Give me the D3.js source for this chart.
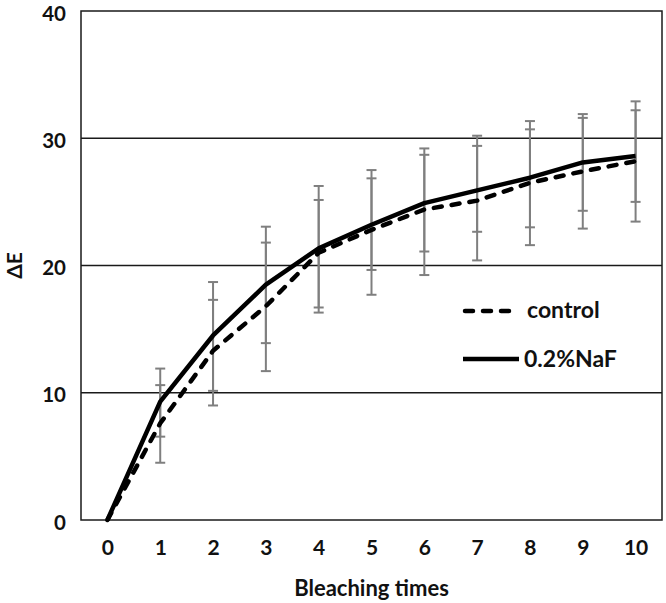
<!DOCTYPE html>
<html><head><meta charset="utf-8">
<script src="https://cdn.jsdelivr.net/npm/d3@7"></script>
<style>
html,body{margin:0;padding:0;background:#fff;}
svg text{font-family:Lato,"Liberation Sans",Arial,sans-serif;font-weight:bold;fill:#111;}
</style></head>
<body><svg id="c" width="666" height="603"></svg>
<script>
const categories = ["0","1","2","3","4","5","6","7","8","9","10"];
const yTicks = [0,10,20,30,40];
const controlMean = [0, 7.6, 13.3, 16.8, 21.0, 22.8, 24.4, 25.1, 26.5, 27.4, 28.2];
const controlHigh = [null, 10.6, 17.3, 21.8, 25.15, 26.85, 28.7, 29.4, 30.7, 31.6, 32.2];
const controlLow  = [null, 4.5, 9.0, 11.7, 16.7, 17.7, 19.25, 20.4, 21.6, 22.9, 23.45];
const nafMean = [0, 9.3, 14.5, 18.5, 21.35, 23.2, 24.9, 25.9, 26.9, 28.1, 28.6];
const nafHigh = [null, 11.9, 18.7, 23.05, 26.25, 27.5, 29.2, 30.2, 31.35, 31.9, 32.9];
const nafLow  = [null, 6.55, 10.15, 13.9, 16.3, 19.65, 21.1, 22.65, 23.0, 24.3, 25.0];
const seriesNames = ["control", "0.2%NaF"];
const xTitle = "Bleaching times";
const yTitle = "ΔE";

const svg = d3.select("#c");
const L = 81, R = 662, T = 11, B = 520;
const x = d3.scalePoint().domain(categories).range([L, R]).padding(0.5);
const y = d3.scaleLinear().domain([0, 40]).range([B, T]);

// gridlines
svg.append("g").selectAll("line").data(yTicks.filter(t => t > 0 && t < 40)).join("line")
  .attr("x1", L).attr("x2", R).attr("y1", d => y(d)).attr("y2", d => y(d))
  .attr("stroke", "#1a1a1a").attr("stroke-width", 1.3);
// frame
svg.append("rect").attr("x", L).attr("y", T).attr("width", R - L).attr("height", B - T)
  .attr("fill", "none").attr("stroke", "#1a1a1a").attr("stroke-width", 1.5);

// axes (labels only)
const yAxis = d3.axisLeft(y).tickValues(yTicks).tickSize(0).tickPadding(15);
const gy = svg.append("g").attr("transform", `translate(${L},0)`).call(yAxis);
gy.select(".domain").remove();
gy.selectAll("text").attr("font-size", 20.5).attr("dy", "0.45em");

const xAxis = d3.axisBottom(x).tickSize(0).tickPadding(20);
const gx = svg.append("g").attr("transform", `translate(0,${B})`).call(xAxis);
gx.select(".domain").remove();
gx.selectAll("text").attr("font-size", 21).attr("dy", "0.71em");

// axis titles
svg.append("text").attr("x", x("5")).attr("y", 596).attr("text-anchor", "middle")
  .attr("font-size", 22).text(xTitle);
svg.append("text").attr("transform", `translate(22,${(T + B) / 2}) rotate(-90)`)
  .attr("text-anchor", "middle").attr("font-size", 21).text(yTitle);

// error bars
function errBars(hi, lo) {
  const data = categories.map((c, i) => ({c, hi: hi[i], lo: lo[i]})).filter(d => d.hi != null);
  const g = svg.append("g").attr("stroke", "#7f7f7f").attr("stroke-width", 2);
  g.selectAll(".v").data(data).join("line")
    .attr("x1", d => x(d.c)).attr("x2", d => x(d.c)).attr("y1", d => y(d.hi)).attr("y2", d => y(d.lo));
  g.selectAll(".h").data(data).join("line")
    .attr("x1", d => x(d.c) - 5).attr("x2", d => x(d.c) + 5).attr("y1", d => y(d.hi)).attr("y2", d => y(d.hi));
  g.selectAll(".l").data(data).join("line")
    .attr("x1", d => x(d.c) - 5).attr("x2", d => x(d.c) + 5).attr("y1", d => y(d.lo)).attr("y2", d => y(d.lo));
}
errBars(controlHigh, controlLow);
errBars(nafHigh, nafLow);

const line = d3.line().x((d, i) => x(categories[i])).y(d => y(d));
svg.append("path").datum(controlMean).attr("d", line).attr("fill", "none")
  .attr("stroke", "#000").attr("stroke-width", 4.5).attr("stroke-dasharray", "8,10").attr("stroke-linecap", "round");
svg.append("path").datum(nafMean).attr("d", line).attr("fill", "none")
  .attr("stroke", "#000").attr("stroke-width", 4.5).attr("stroke-linejoin", "round");

// legend
const lg = svg.append("g");
lg.append("line").attr("x1", 465).attr("x2", 515).attr("y1", 311).attr("y2", 311)
  .attr("stroke", "#000").attr("stroke-width", 4.5).attr("stroke-dasharray", "8,10").attr("stroke-linecap", "round");
lg.append("text").attr("x", 527).attr("y", 318).attr("font-size", 23).text(seriesNames[0]);
lg.append("line").attr("x1", 463).attr("x2", 519).attr("y1", 359).attr("y2", 359)
  .attr("stroke", "#000").attr("stroke-width", 4.5);
lg.append("text").attr("x", 524).attr("y", 367).attr("font-size", 23).text(seriesNames[1]);
</script></body></html>
